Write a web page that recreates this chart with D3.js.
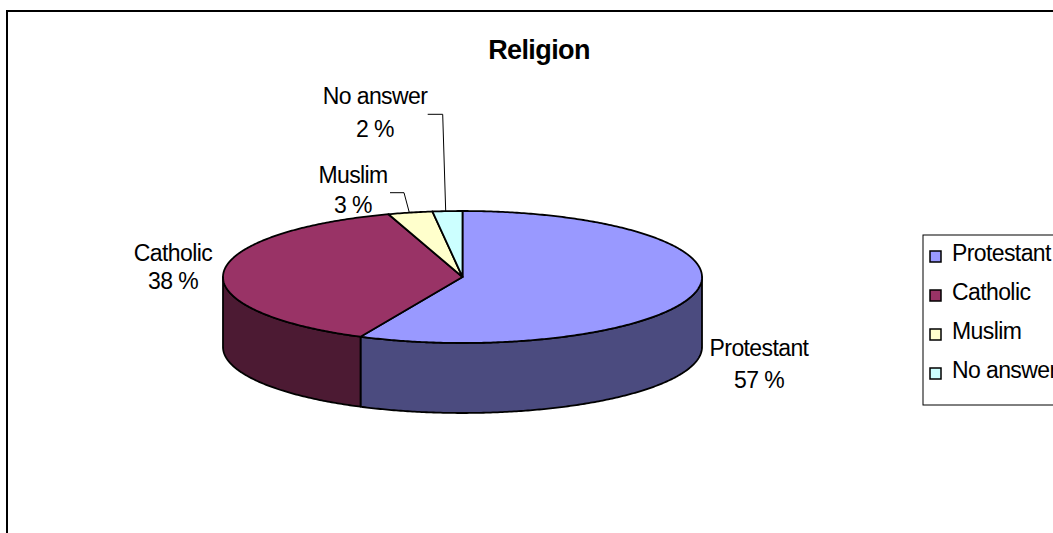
<!DOCTYPE html>
<html><head><meta charset="utf-8">
<script src="https://cdn.jsdelivr.net/npm/d3@7"></script>
<style>
html,body{margin:0;padding:0;background:#fff;}
svg{display:block;}
text{font-family:"Liberation Sans",Arial,sans-serif;}
</style></head>
<body>
<script>
const categories = ["Protestant", "Catholic", "Muslim", "No answer"];
const values = [57, 38, 3, 2];
const valueLabels = ["57 %", "38 %", "3 %", "2 %"];
const topColors = ["#9999FF", "#993366", "#FFFFCC", "#CCFFFF"];
const sideColors = ["#4B4B7F", "#4C1A33", "#7F7F66", "#667F7F"];
const title = "Religion";

const W = 1053, H = 533;
const svg = d3.select("body").append("svg").attr("width", W).attr("height", H);

// chart border
svg.append("rect").attr("x", 7).attr("y", 11).attr("width", W + 10).attr("height", H + 10)
  .attr("fill", "#fff").attr("stroke", "#000").attr("stroke-width", 2);

svg.append("text").attr("x", 539).attr("y", 59).attr("text-anchor", "middle")
  .attr("font-size", 27).attr("font-weight", "bold").attr("letter-spacing", -0.6).text(title);

const cx = 462.5, cy = 277, rx = 239.5, ry = 66, depth = 70;
const pie = d3.pie().sort(null).value(d => d.v).startAngle(0).endAngle(2 * Math.PI);
const arcs = pie(categories.map((c, i) => ({ c, v: values[i], i })));

const px = (t, dy = 0) => [cx + rx * Math.sin(t), cy - ry * Math.cos(t) + dy];
function arcPts(t0, t1, dy) {
  const n = Math.max(2, Math.ceil(Math.abs(t1 - t0) / 0.01));
  return d3.range(n + 1).map(k => px(t0 + (t1 - t0) * k / n, dy));
}
const line = d3.line();

const g = svg.append("g").attr("stroke", "#000").attr("stroke-width", 1.8).attr("stroke-linejoin", "round");

// sides (front half: angles between PI/2 and 3PI/2)
arcs.forEach(a => {
  const t0 = Math.max(a.startAngle, Math.PI / 2), t1 = Math.min(a.endAngle, 3 * Math.PI / 2);
  if (t1 <= t0) return;
  const pts = arcPts(t0, t1, 0).concat(arcPts(t1, t0, depth));
  g.append("path").attr("d", line(pts) + "Z").attr("fill", sideColors[a.data.i]);
});

// tops
arcs.forEach(a => {
  const pts = [[cx, cy]].concat(arcPts(a.startAngle, a.endAngle, 0));
  g.append("path").attr("d", line(pts) + "Z").attr("fill", topColors[a.data.i]);
});

// labels
const labelPos = [
  { x: 759, y1: 356, y2: 388 },
  { x: 173, y1: 261, y2: 289 },
  { x: 353, y1: 183, y2: 213 },
  { x: 375, y1: 104, y2: 137 }
];
const lg = svg.append("g").attr("font-size", 23).attr("text-anchor", "middle").attr("letter-spacing", -0.6);
arcs.forEach(a => {
  const p = labelPos[a.data.i];
  lg.append("text").attr("x", p.x).attr("y", p.y1).text(a.data.c);
  lg.append("text").attr("x", p.x).attr("y", p.y2).text(valueLabels[a.data.i]);
});

// leader lines
const leaders = [
  [[390, 192.7], [404, 192.7], [409.3, 212.5]],
  [[427.7, 114.3], [442.7, 114.3], [445.7, 211]]
];
svg.append("g").selectAll("path").data(leaders).join("path")
  .attr("d", d => line(d)).attr("fill", "none").attr("stroke", "#000").attr("stroke-width", 1);

// legend
svg.append("rect").attr("x", 923).attr("y", 235).attr("width", 200).attr("height", 170)
  .attr("fill", "#fff").attr("stroke", "#000").attr("stroke-width", 1);
const leg = svg.append("g");
categories.forEach((c, i) => {
  const by = 261 + i * 39;
  leg.append("rect").attr("x", 930).attr("y", by - 10).attr("width", 11).attr("height", 11)
    .attr("fill", topColors[i]).attr("stroke", "#000").attr("stroke-width", 1.5);
  leg.append("text").attr("x", 952).attr("y", by).attr("font-size", 23).attr("letter-spacing", -0.6).text(c);
});
</script>
</body></html>
